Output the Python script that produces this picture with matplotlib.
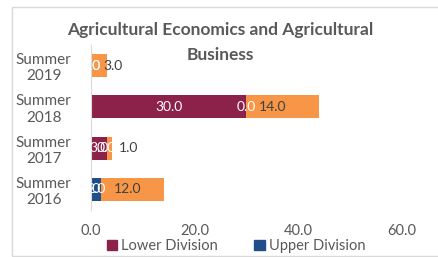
import matplotlib
matplotlib.use('Agg')
import matplotlib.pyplot as plt
from matplotlib.patches import Rectangle, Patch
import numpy as np

plt.rcParams['font.family'] = ['Lato', 'DejaVu Sans']

terms = ['Summer\n2016', 'Summer\n2017', 'Summer\n2018', 'Summer\n2019']
lower_div = [0.0, 3.0, 30.0, 0.0]
upper_div = [2.0, 0.0, 0.0, 0.0]
other = [12.0, 1.0, 14.0, 3.0]

c_lower = '#8C2249'
c_upper = '#1F4E89'
c_other = '#F79646'
grey = '#595959'

fig = plt.figure(figsize=(4.39, 2.57), dpi=100)
fig.patches.append(Rectangle((12 / 439, 1 / 257), 1.1, 249 / 257, transform=fig.transFigure,
                             fill=False, edgecolor='#D9D9D9', linewidth=1.0))
ax = fig.add_axes([91 / 439, 1 - 210 / 257, (402 - 91) / 439, 165 / 257])

y = np.arange(len(terms))
h = 0.56
lower = np.array(lower_div)
upper = np.array(upper_div)
rest = np.array(other)

r1 = ax.barh(y, lower, h, color=c_lower)
r2 = ax.barh(y, upper, h, left=lower, color=c_upper)
r3 = ax.barh(y, rest, h, left=lower + upper, color=c_other)

ax.bar_label(r1, labels=['%.1f' % v for v in lower_div], label_type='center', color='white', fontsize=10)
ax.bar_label(r2, labels=['%.1f' % v for v in upper_div], label_type='center', color='white', fontsize=10)
for i, v in enumerate(other):
    ax.annotate('%.1f' % v, (lower[i] + upper[i], y[i]), xytext=(9, 0), textcoords='offset points',
                ha='left', va='center', color='#404040', fontsize=10)

ax.set_xlim(0, 60)
ax.set_ylim(-0.5, 3.5)
ax.set_xticks([0, 20, 40, 60], ['0.0', '20.0', '40.0', '60.0'])
ax.set_yticks(y, terms)
ax.tick_params(axis='x', length=0, pad=10, labelsize=10.5, labelcolor=grey)
ax.tick_params(axis='y', length=0, pad=34, labelsize=11, labelcolor=grey)
for lbl in ax.get_yticklabels():
    lbl.set_horizontalalignment('center')
    lbl.set_multialignment('center')
for s in ['top', 'right', 'bottom']:
    ax.spines[s].set_visible(False)
ax.spines['left'].set_color('#D9D9D9')

fig.text(220 / 439, 1 - 30 / 257, 'Agricultural Economics and Agricultural', ha='center', va='center',
         fontsize=12.5, fontweight='bold', color=grey)
fig.text(220 / 439, 1 - 55 / 257, 'Business', ha='center', va='center',
         fontsize=12.5, fontweight='bold', color=grey)

handles = [Patch(color=c_lower, label='Lower Division'), Patch(color=c_upper, label='Upper Division')]
fig.legend(handles=handles, loc='center', bbox_to_anchor=(236 / 439, 1 - 246 / 257), ncol=2, frameon=False,
           fontsize=10.5, labelcolor=grey, handlelength=0.7, handleheight=0.7, handletextpad=0.3,
           columnspacing=2.5, borderpad=0)

fig.savefig('out.png', dpi=100)
